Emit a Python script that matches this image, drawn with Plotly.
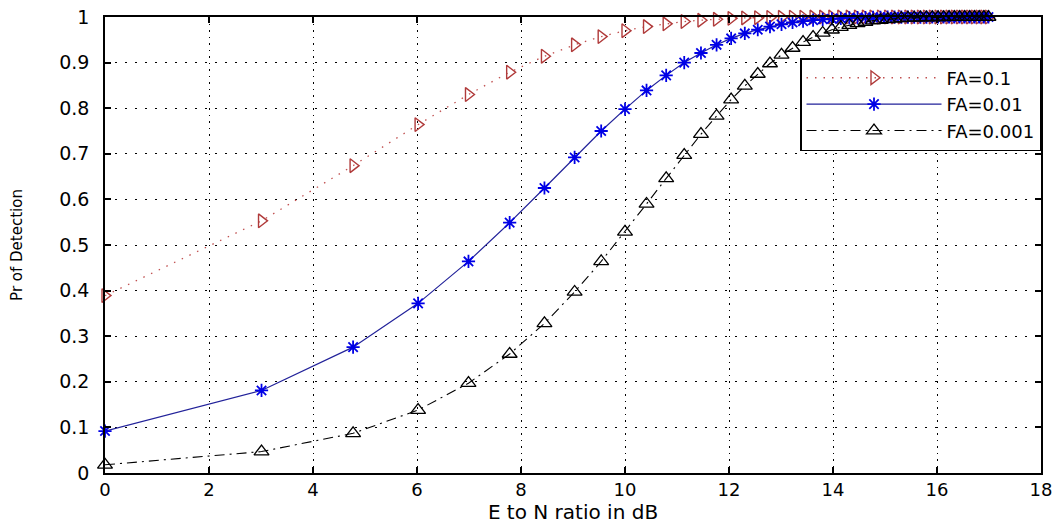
import plotly.graph_objects as go

# E/N ratio in dB (sample positions)
snr_db = [0.000, 3.010, 4.771, 6.021, 6.990, 7.782, 8.451, 9.031, 9.542, 10.000,
          10.414, 10.792, 11.139, 11.461, 11.761, 12.041, 12.304, 12.553, 12.788, 13.010,
          13.222, 13.424, 13.617, 13.802, 13.979, 14.150, 14.314, 14.472, 14.624, 14.771,
          14.914, 15.051, 15.185, 15.315, 15.441, 15.563, 15.682, 15.798, 15.911, 16.021,
          16.128, 16.232, 16.335, 16.435, 16.532, 16.628, 16.721, 16.812, 16.902, 16.990]

pd_fa_01 = [0.389, 0.553, 0.674, 0.764, 0.830, 0.879, 0.914, 0.939, 0.957, 0.970,
            0.979, 0.985, 0.990, 0.993, 0.995, 0.997, 0.998, 0.9985, 0.999, 0.9993,
            0.9995, 0.9997, 0.9998, 0.9998, 0.9999, 0.9999, 0.9999, 1.0, 1.0, 1.0,
            1.0, 1.0, 1.0, 1.0, 1.0, 1.0, 1.0, 1.0, 1.0, 1.0,
            1.0, 1.0, 1.0, 1.0, 1.0, 1.0, 1.0, 1.0, 1.0, 1.0]

pd_fa_001 = [0.092, 0.181, 0.276, 0.372, 0.464, 0.549, 0.625, 0.692, 0.750, 0.798,
             0.839, 0.872, 0.900, 0.921, 0.939, 0.953, 0.964, 0.972, 0.979, 0.984,
             0.988, 0.991, 0.993, 0.995, 0.996, 0.997, 0.998, 0.9985, 0.9989, 0.9992,
             0.9994, 0.9996, 0.9997, 0.9998, 0.9998, 0.9999, 0.9999, 0.9999, 1.0, 1.0,
             1.0, 1.0, 1.0, 1.0, 1.0, 1.0, 1.0, 1.0, 1.0, 1.0]

pd_fa_0001 = [0.018, 0.047, 0.087, 0.138, 0.197, 0.261, 0.328, 0.397, 0.464, 0.529,
              0.590, 0.646, 0.697, 0.743, 0.783, 0.819, 0.849, 0.875, 0.898, 0.917,
              0.932, 0.945, 0.956, 0.965, 0.972, 0.978, 0.982, 0.986, 0.989, 0.992,
              0.993, 0.995, 0.996, 0.997, 0.998, 0.998, 0.9986, 0.9989, 0.9992, 0.9994,
              0.9995, 0.9997, 0.9997, 0.9998, 0.9998, 0.9999, 0.9999, 0.9999, 0.9999, 1.0]

series_names = ["FA=0.1", "FA=0.01", "FA=0.001"]
x_ticks = [0, 2, 4, 6, 8, 10, 12, 14, 16, 18]
y_ticks = [0, 0.1, 0.2, 0.3, 0.4, 0.5, 0.6, 0.7, 0.8, 0.9, 1]
y_tick_text = ["0", "0.1", "0.2", "0.3", "0.4", "0.5", "0.6", "0.7", "0.8", "0.9", "1"]

FONT = "DejaVu Sans, Arial, sans-serif"

fig = go.Figure()
fig.add_trace(go.Scatter(
    x=snr_db, y=pd_fa_01, name=series_names[0], mode="lines+markers",
    line=dict(color="#c05050", width=1.3, dash="1.5px,7px"),
    marker=dict(symbol="triangle-right-open", size=12, color="#b03a3a", line=dict(width=1.4)),
    cliponaxis=False))
fig.add_trace(go.Scatter(
    x=snr_db, y=pd_fa_001, name=series_names[1], mode="lines+markers",
    line=dict(color="#22229a", width=1.2),
    marker=dict(symbol="asterisk-open", size=11, color="#0000e6", line=dict(width=1.8)),
    cliponaxis=False))
fig.add_trace(go.Scatter(
    x=snr_db, y=pd_fa_0001, name=series_names[2], mode="lines+markers",
    line=dict(color="black", width=1.1, dash="10px,5px,2px,5px"),
    marker=dict(symbol="triangle-up-open", size=13, color="black", line=dict(width=1.3)),
    cliponaxis=False))

axis_common = dict(
    showline=True, linecolor="black", linewidth=1.5, mirror="ticks",
    ticks="inside", ticklen=6, tickcolor="black", tickwidth=1.5,
    showgrid=True, gridcolor="black", gridwidth=1.3,
    zeroline=False, automargin=False, ticklabeloverflow="allow",
)

fig.update_xaxes(range=[0, 18], tickvals=x_ticks, griddash="1.5px,5px", **axis_common,
                 ticklabelstandoff=0,
                 tickfont=dict(family=FONT, size=18, color="black"),
                 title=dict(text="E to N ratio in dB", standoff=3,
                            font=dict(family=FONT, size=20, color="black")))
fig.update_yaxes(range=[0, 1], tickvals=y_ticks, ticktext=y_tick_text, griddash="1.5px,8.5px",
                 **axis_common, ticklabelstandoff=10,
                 tickfont=dict(family=FONT, size=19, color="black"),
                 title=dict(text="Pr of Detection", standoff=33,
                            font=dict(family=FONT, size=15, color="black")))

fig.update_layout(
    width=1060, height=525,
    margin=dict(l=105, r=19, t=17, b=52),
    paper_bgcolor="white", plot_bgcolor="white",
    legend=dict(x=1.0, y=0.91, xanchor="right", yanchor="top",
                bgcolor="white", bordercolor="black", borderwidth=1.5,
                font=dict(family=FONT, size=18, color="black"),
                itemwidth=135, tracegroupgap=0),
    showlegend=True,
)

# remove the default 8px page margin so the figure fills the window exactly
fig.write_html("out.html", config={"displayModeBar": False},
               post_script="document.body.style.margin='0';")
